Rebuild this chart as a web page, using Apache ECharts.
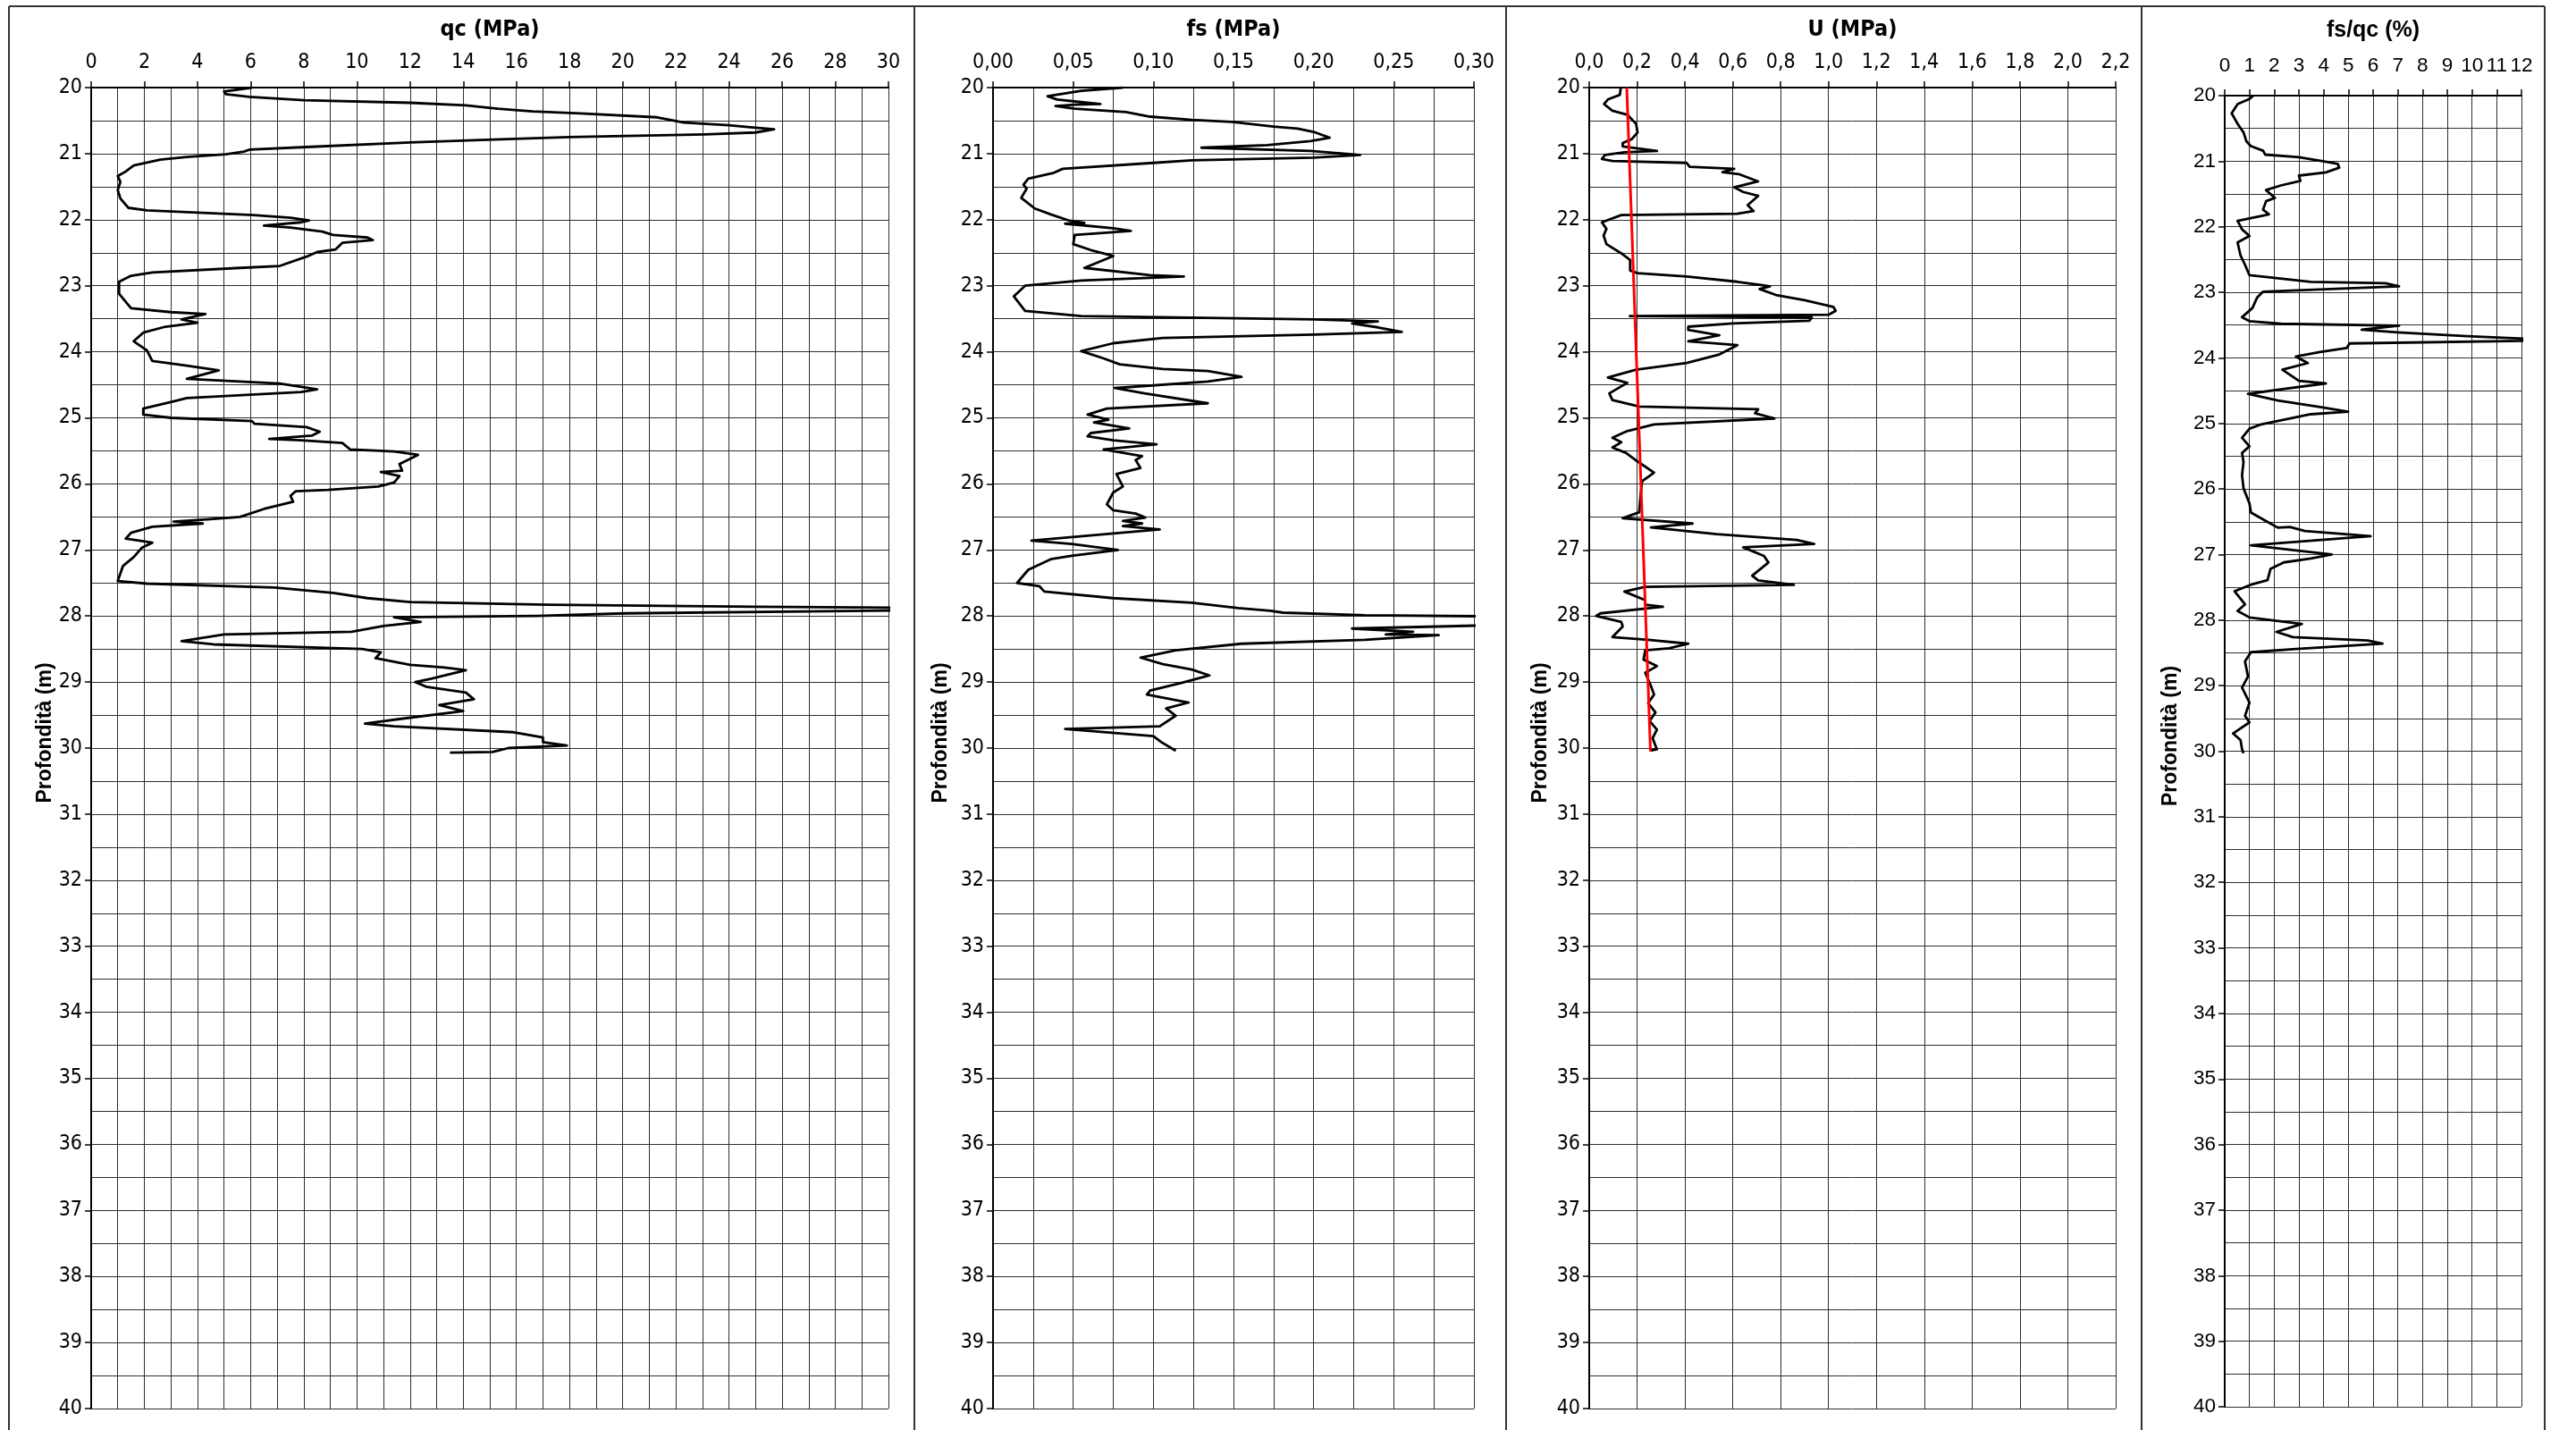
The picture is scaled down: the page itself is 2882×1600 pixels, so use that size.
<!DOCTYPE html>
<html>
<head>
<meta charset="utf-8">
<script src="https://cdn.jsdelivr.net/npm/echarts@6/dist/echarts.min.js"></script>
<style>
html,body{margin:0;padding:0;background:#fff;}
#c{width:2882px;height:1600px;}
</style>
</head>
<body>
<div id="c"></div>
<script>
// ---- DATA: [depth (m), value] ----
const qcProfile = [[20.00,6.05],[20.06,5.0],[20.10,5.07],[20.14,5.95],[20.19,8.0],[20.23,12.0],[20.27,14.1],[20.32,15.3],[20.36,16.6],[20.39,18.4],[20.45,21.3],[20.53,22.3],[20.57,24.0],[20.60,24.8],[20.63,25.7],[20.68,25.0],[20.71,23.1],[20.75,18.0],[20.79,14.9],[20.83,12.0],[20.90,8.1],[20.94,5.95],[20.97,5.75],[21.01,5.07],[21.05,3.6],[21.09,2.6],[21.18,1.6],[21.27,1.3],[21.34,1.0],[21.43,1.1],[21.55,1.0],[21.68,1.1],[21.82,1.4],[21.86,2.1],[21.93,6.1],[21.97,7.5],[22.01,8.2],[22.04,7.9],[22.09,6.5],[22.12,7.5],[22.18,8.7],[22.23,9.1],[22.27,10.4],[22.31,10.6],[22.35,9.45],[22.45,9.2],[22.49,8.5],[22.56,8.1],[22.70,7.1],[22.73,5.6],[22.80,2.3],[22.85,1.5],[22.94,1.05],[23.12,1.05],[23.34,1.5],[23.40,3.0],[23.43,4.3],[23.51,3.4],[23.56,4.0],[23.62,2.8],[23.71,1.96],[23.84,1.6],[23.98,2.1],[24.14,2.3],[24.21,3.6],[24.28,4.8],[24.41,3.6],[24.48,7.1],[24.57,8.5],[24.61,7.9],[24.70,3.6],[24.75,3.1],[24.86,1.96],[24.95,1.96],[25.00,3.0],[25.05,6.05],[25.09,6.15],[25.14,8.1],[25.21,8.6],[25.27,8.3],[25.32,6.7],[25.34,7.9],[25.38,9.45],[25.48,9.75],[25.51,11.4],[25.56,12.3],[25.70,11.6],[25.80,11.7],[25.82,10.9],[25.88,11.6],[25.98,11.4],[26.04,10.8],[26.09,8.9],[26.11,7.7],[26.18,7.5],[26.27,7.6],[26.38,6.5],[26.50,5.6],[26.53,4.6],[26.57,3.1],[26.60,4.2],[26.65,2.3],[26.74,1.5],[26.83,1.3],[26.89,2.3],[26.97,1.9],[27.11,1.6],[27.24,1.2],[27.47,1.0],[27.51,2.1],[27.57,6.9],[27.65,9.1],[27.73,10.4],[27.79,12.0],[27.83,17.2],[27.86,25.0],[27.88,32],[27.91,32],[27.96,20.1],[28.00,16.8],[28.02,11.4],[28.09,12.4],[28.15,11.0],[28.24,9.8],[28.28,5.0],[28.38,3.4],[28.43,4.6],[28.50,10.2],[28.55,10.9],[28.64,10.7],[28.74,12.0],[28.78,13.3],[28.82,14.1],[28.95,12.8],[29.00,12.2],[29.07,12.6],[29.16,14.1],[29.26,14.4],[29.35,13.1],[29.44,14.0],[29.55,11.8],[29.63,10.3],[29.67,11.4],[29.76,15.9],[29.84,17.0],[29.91,17.0],[29.96,17.9],[30.00,15.7],[30.06,15.1],[30.07,13.5]];

const fsProfile = [[20.00,0.081],[20.05,0.055],[20.13,0.034],[20.18,0.040],[20.22,0.055],[20.25,0.067],[20.26,0.051],[20.28,0.039],[20.32,0.051],[20.37,0.083],[20.44,0.098],[20.49,0.124],[20.52,0.149],[20.59,0.175],[20.62,0.190],[20.67,0.200],[20.76,0.210],[20.81,0.198],[20.87,0.171],[20.91,0.130],[20.96,0.198],[21.02,0.229],[21.06,0.200],[21.10,0.124],[21.14,0.100],[21.23,0.0435],[21.29,0.038],[21.38,0.022],[21.47,0.019],[21.53,0.021],[21.67,0.0176],[21.83,0.026],[21.92,0.036],[22.01,0.047],[22.05,0.057],[22.06,0.045],[22.13,0.075],[22.17,0.086],[22.23,0.051],[22.37,0.050],[22.46,0.061],[22.55,0.075],[22.73,0.057],[22.84,0.098],[22.86,0.119],[22.92,0.055],[23.00,0.020],[23.16,0.013],[23.38,0.020],[23.46,0.055],[23.51,0.200],[23.54,0.240],[23.57,0.224],[23.63,0.240],[23.70,0.255],[23.74,0.200],[23.79,0.106],[23.87,0.075],[23.99,0.055],[24.10,0.069],[24.19,0.079],[24.26,0.106],[24.29,0.134],[24.38,0.155],[24.45,0.134],[24.55,0.076],[24.63,0.0945],[24.78,0.134],[24.86,0.071],[24.95,0.059],[25.03,0.072],[25.07,0.063],[25.16,0.085],[25.23,0.061],[25.28,0.059],[25.34,0.075],[25.40,0.102],[25.48,0.069],[25.58,0.093],[25.64,0.089],[25.76,0.092],[25.85,0.077],[26.04,0.081],[26.13,0.075],[26.31,0.071],[26.40,0.075],[26.45,0.089],[26.51,0.095],[26.56,0.081],[26.60,0.093],[26.64,0.081],[26.69,0.104],[26.75,0.075],[26.86,0.024],[26.91,0.049],[27.00,0.078],[27.09,0.049],[27.14,0.036],[27.30,0.022],[27.50,0.015],[27.55,0.029],[27.63,0.032],[27.73,0.075],[27.80,0.124],[27.88,0.153],[27.92,0.173],[27.95,0.181],[27.99,0.232],[28.01,0.33],[28.13,0.33],[28.19,0.224],[28.24,0.262],[28.28,0.245],[28.29,0.278],[28.36,0.232],[28.42,0.155],[28.52,0.114],[28.63,0.092],[28.73,0.106],[28.81,0.124],[28.90,0.135],[29.01,0.118],[29.13,0.098],[29.19,0.096],[29.31,0.122],[29.40,0.108],[29.51,0.114],[29.67,0.104],[29.71,0.045],[29.82,0.100],[29.91,0.105],[30.04,0.114]];

const uProfile = [[20.00,0.132],[20.11,0.128],[20.18,0.078],[20.25,0.062],[20.35,0.097],[20.41,0.159],[20.55,0.196],[20.68,0.202],[20.78,0.178],[20.84,0.140],[20.89,0.140],[20.96,0.283],[20.98,0.147],[21.02,0.066],[21.08,0.053],[21.11,0.097],[21.14,0.407],[21.20,0.42],[21.23,0.606],[21.28,0.557],[21.31,0.625],[21.42,0.706],[21.51,0.606],[21.58,0.643],[21.64,0.706],[21.78,0.662],[21.87,0.687],[21.91,0.619],[21.93,0.134],[22.04,0.053],[22.14,0.072],[22.24,0.060],[22.37,0.072],[22.51,0.134],[22.61,0.171],[22.77,0.171],[22.81,0.202],[22.86,0.407],[22.94,0.619],[22.99,0.718],[23.01,0.755],[23.05,0.712],[23.14,0.780],[23.22,0.90],[23.32,1.02],[23.38,1.03],[23.44,1.00],[23.46,0.17],[23.48,0.93],[23.53,0.92],[23.57,0.60],[23.62,0.414],[23.67,0.414],[23.75,0.544],[23.84,0.414],[23.90,0.619],[24.04,0.544],[24.17,0.407],[24.27,0.196],[24.39,0.078],[24.47,0.159],[24.63,0.084],[24.73,0.097],[24.83,0.209],[24.87,0.706],[24.93,0.693],[25.01,0.774],[25.10,0.271],[25.20,0.159],[25.30,0.097],[25.37,0.134],[25.45,0.097],[25.53,0.153],[25.66,0.202],[25.83,0.271],[25.96,0.221],[26.16,0.215],[26.43,0.209],[26.52,0.140],[26.60,0.432],[26.66,0.258],[26.76,0.532],[26.85,0.867],[26.91,0.94],[26.96,0.643],[27.09,0.730],[27.19,0.749],[27.39,0.681],[27.46,0.706],[27.53,0.855],[27.56,0.234],[27.63,0.147],[27.76,0.234],[27.83,0.234],[27.86,0.308],[27.96,0.047],[28.00,0.029],[28.09,0.134],[28.16,0.140],[28.32,0.097],[28.36,0.246],[28.42,0.414],[28.49,0.333],[28.52,0.234],[28.66,0.227],[28.76,0.283],[28.86,0.234],[29.06,0.258],[29.19,0.271],[29.32,0.246],[29.46,0.277],[29.59,0.252],[29.72,0.283],[29.85,0.265],[30.02,0.283],[30.04,0.255]];

const hydroLine = [[20.00,0.157],[30.05,0.256]];

const rfProfile = [[20.00,1.16],[20.05,1.0],[20.10,0.70],[20.13,0.52],[20.27,0.28],[20.35,0.40],[20.43,0.52],[20.56,0.76],[20.70,0.88],[20.77,1.06],[20.84,1.55],[20.90,1.64],[20.94,3.0],[20.97,3.48],[21.00,3.97],[21.04,4.57],[21.10,4.63],[21.17,4.09],[21.22,3.0],[21.30,3.06],[21.37,2.27],[21.44,1.67],[21.56,2.03],[21.61,1.67],[21.74,1.55],[21.81,1.79],[21.91,0.52],[22.04,0.70],[22.14,1.0],[22.24,0.52],[22.44,0.64],[22.58,0.82],[22.74,1.0],[22.84,3.48],[22.86,6.5],[22.91,7.05],[22.99,1.55],[23.08,1.31],[23.24,1.12],[23.38,0.70],[23.44,1.0],[23.48,2.27],[23.51,7.05],[23.57,5.54],[23.61,6.99],[23.67,9.8],[23.71,12.2],[23.74,12.2],[23.78,5.05],[23.85,4.93],[23.91,3.85],[23.98,2.88],[24.08,3.36],[24.18,2.33],[24.35,3.0],[24.39,4.09],[24.48,2.27],[24.55,0.94],[24.65,2.15],[24.75,3.85],[24.82,4.99],[24.86,3.48],[25.02,1.43],[25.08,1.0],[25.22,0.70],[25.35,1.0],[25.45,0.70],[25.59,0.76],[25.79,0.70],[25.99,0.76],[26.22,1.0],[26.36,1.06],[26.49,1.67],[26.59,2.15],[26.58,2.64],[26.64,3.24],[26.72,5.90],[26.86,1.06],[27.00,4.33],[27.06,3.48],[27.12,2.39],[27.22,1.85],[27.39,1.73],[27.46,1.06],[27.56,0.40],[27.76,0.82],[27.86,0.52],[27.96,1.0],[28.06,3.12],[28.18,2.09],[28.26,2.76],[28.31,5.78],[28.36,6.38],[28.44,2.88],[28.49,1.06],[28.63,0.82],[28.86,0.94],[29.03,0.70],[29.26,1.0],[29.46,0.82],[29.56,1.0],[29.73,0.34],[29.83,0.64],[29.97,0.70],[30.03,0.76]];

const panelTitles = ['qc (MPa)', 'fs (MPa)', 'U (MPa)', 'fs/qc (%)'];
const depthTitle = 'Profondità (m)';
const depthRange = [20, 40];
const xRanges = [[0, 30, 2], [0, 0.30, 0.05], [0, 2.2, 0.2], [0, 12, 1]];
const xDecimals = [0, 2, 1, 0];

// ---- CHART ----
const FONT_N = '"Liberation Sans Narrow", "Arial Narrow", "DejaVu Sans Condensed", "Liberation Sans", sans-serif';
const FONT_R = '"Liberation Sans", Arial, sans-serif';
const GRIDC = '#2e2e2e';
const grids = [
  {left: 102, top: 98, width: 892, height: 1478},
  {left: 1111, top: 98, width: 538, height: 1478},
  {left: 1778, top: 98, width: 589, height: 1478},
  {left: 2489, top: 107, width: 332, height: 1467}
];
const minorX = [true, true, false, false];
const fonts = [FONT_N, FONT_N, FONT_N, FONT_R];
const labelSize = [23, 23, 23, 22.5];
const titleGap = [52, 52, 52, 60];
const labelMargin = [16, 16, 16, 22];
const yNameGap = [38, 47, 43, 49];

const xAxes = xRanges.map((r, i) => ({
  gridIndex: i, type: 'value', position: 'top',
  min: r[0], max: r[1], interval: r[2],
  name: panelTitles[i], nameLocation: 'middle', nameGap: titleGap[i],
  nameTextStyle: {fontFamily: fonts[i], fontWeight: 'bold', fontSize: 25, color: '#000'},
  axisLine: {show: true, onZero: false, lineStyle: {color: '#000', width: 2}},
  axisTick: {show: true, length: 7, lineStyle: {color: '#000', width: 1.5}},
  axisLabel: {fontFamily: fonts[i], fontSize: labelSize[i], color: '#000', margin: labelMargin[i],
    formatter: v => Number(v).toFixed(xDecimals[i]).replace('.', ',')},
  splitLine: {show: true, lineStyle: {color: GRIDC, width: 1}},
  minorTick: {show: false, splitNumber: 2},
  minorSplitLine: {show: minorX[i], lineStyle: {color: GRIDC, width: 1}}
}));

const yAxes = grids.map((g, i) => ({
  gridIndex: i, type: 'value', inverse: true,
  min: depthRange[0], max: depthRange[1], interval: 1,
  name: depthTitle, nameLocation: 'middle', nameGap: yNameGap[i], nameRotate: 90,
  nameTextStyle: {fontFamily: FONT_R, fontWeight: 'bold', fontSize: 23, color: '#000', padding: [0, 0, 0, 34]},
  axisLine: {show: true, onZero: false, lineStyle: {color: '#000', width: 2}},
  axisTick: {show: true, length: 7, lineStyle: {color: '#000', width: 1.5}},
  axisLabel: {fontFamily: fonts[i], fontSize: labelSize[i], color: '#000', margin: 10},
  splitLine: {show: true, lineStyle: {color: GRIDC, width: 1}},
  minorTick: {show: false, splitNumber: 2},
  minorSplitLine: {show: true, lineStyle: {color: GRIDC, width: 1}}
}));

function toXY(profile) { return profile.map(p => [p[1], p[0]]); }
function lineSeries(idx, profile, color, width) {
  return {type: 'line', xAxisIndex: idx, yAxisIndex: idx, data: toXY(profile),
    showSymbol: false, symbol: 'none', clip: true, animation: false,
    lineStyle: {color: color, width: width, join: 'round'}};
}

const frameLines = [
  [10, 7, 2847, 7], [10, 7, 10, 1600], [1023, 7, 1023, 1600],
  [1685, 7, 1685, 1600], [2396, 7, 2396, 1600], [2847, 7, 2847, 1600]
].map(l => ({type: 'line', shape: {x1: l[0], y1: l[1], x2: l[2], y2: l[3]}, style: {stroke: '#333', lineWidth: 2}, silent: true}));

const chart = echarts.init(document.getElementById('c'), null, {renderer: 'canvas'});
chart.setOption({
  backgroundColor: '#fff',
  animation: false,
  grid: grids,
  xAxis: xAxes,
  yAxis: yAxes,
  graphic: frameLines,
  series: [
    lineSeries(0, qcProfile, '#000', 2.8),
    lineSeries(1, fsProfile, '#000', 2.8),
    lineSeries(2, uProfile, '#000', 2.8),
    lineSeries(2, hydroLine, '#ff0000', 3),
    lineSeries(3, rfProfile, '#000', 2.8)
  ]
});
</script>
</body>
</html>
